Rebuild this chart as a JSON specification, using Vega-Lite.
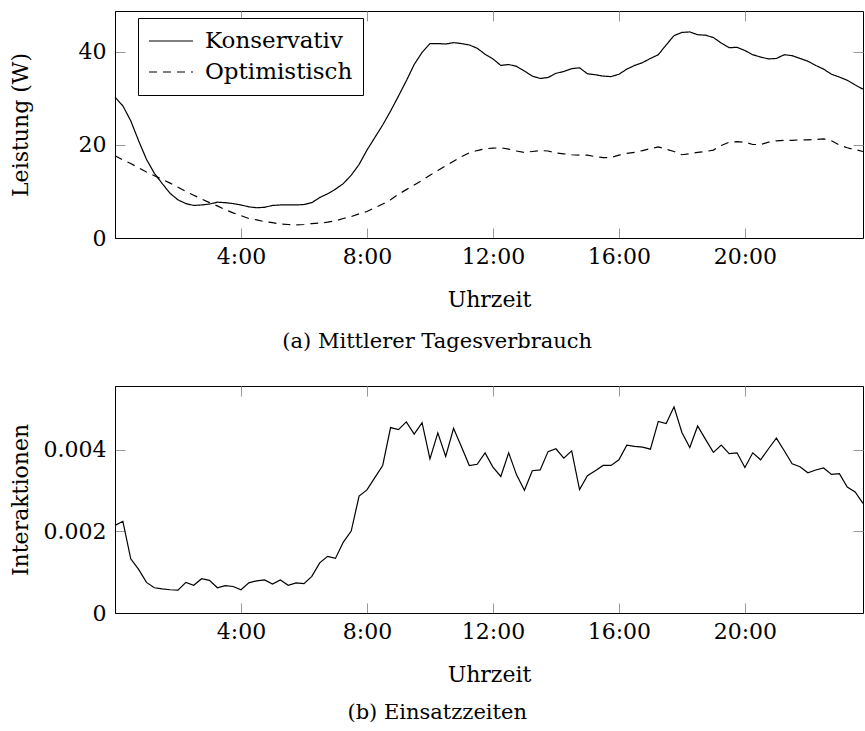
{
  "$schema": "https://vega.github.io/schema/vega-lite/v6.json",
  "padding": {"left": 8, "top": 10, "right": 0, "bottom": 0},
  "background": "white",
  "spacing": 148,
  "bounds": "flush",
  "config": {
    "font": "DejaVu Serif",
    "view": {"stroke": "black", "strokeWidth": 1},
    "axis": {
      "labelFont": "DejaVu Serif", "labelFontSize": 22, "labelColor": "black",
      "titleFont": "DejaVu Serif", "titleFontSize": 22, "titleFontWeight": "normal", "titleColor": "black",
      "ticks": false, "domain": true, "domainColor": "black", "domainWidth": 1,
      "grid": true, "gridColor": "#999999", "gridWidth": 1
    },
    "axisX": {"gridDash": [10, 207]},
    "axisY": {"gridDash": [10, 728]},
    "title": {"font": "DejaVu Serif", "fontSize": 21, "fontWeight": "normal", "color": "black"}
  },
  "datasets": {
    "leistung": [
      {"Uhrzeit": 0, "Konservativ": 30.3, "Optimistisch": 17.7},
      {"Uhrzeit": 0.25, "Konservativ": 28.4, "Optimistisch": 16.8},
      {"Uhrzeit": 0.5, "Konservativ": 25.2, "Optimistisch": 16.0},
      {"Uhrzeit": 0.75, "Konservativ": 20.9, "Optimistisch": 15.1},
      {"Uhrzeit": 1, "Konservativ": 16.9, "Optimistisch": 14.2},
      {"Uhrzeit": 1.25, "Konservativ": 13.9, "Optimistisch": 13.4},
      {"Uhrzeit": 1.5, "Konservativ": 11.7, "Optimistisch": 12.6},
      {"Uhrzeit": 1.75, "Konservativ": 9.6, "Optimistisch": 11.8},
      {"Uhrzeit": 2, "Konservativ": 8.2, "Optimistisch": 10.9},
      {"Uhrzeit": 2.25, "Konservativ": 7.4, "Optimistisch": 10.0},
      {"Uhrzeit": 2.5, "Konservativ": 7.0, "Optimistisch": 9.2},
      {"Uhrzeit": 2.75, "Konservativ": 7.1, "Optimistisch": 8.4},
      {"Uhrzeit": 3, "Konservativ": 7.3, "Optimistisch": 7.6},
      {"Uhrzeit": 3.25, "Konservativ": 7.7, "Optimistisch": 6.9},
      {"Uhrzeit": 3.5, "Konservativ": 7.6, "Optimistisch": 6.1},
      {"Uhrzeit": 3.75, "Konservativ": 7.4, "Optimistisch": 5.4},
      {"Uhrzeit": 4, "Konservativ": 7.1, "Optimistisch": 4.8},
      {"Uhrzeit": 4.25, "Konservativ": 6.7, "Optimistisch": 4.2},
      {"Uhrzeit": 4.5, "Konservativ": 6.5, "Optimistisch": 3.9},
      {"Uhrzeit": 4.75, "Konservativ": 6.6, "Optimistisch": 3.5},
      {"Uhrzeit": 5, "Konservativ": 7.0, "Optimistisch": 3.3},
      {"Uhrzeit": 5.25, "Konservativ": 7.1, "Optimistisch": 3.0},
      {"Uhrzeit": 5.5, "Konservativ": 7.1, "Optimistisch": 2.9},
      {"Uhrzeit": 5.75, "Konservativ": 7.1, "Optimistisch": 2.8},
      {"Uhrzeit": 6, "Konservativ": 7.2, "Optimistisch": 2.9},
      {"Uhrzeit": 6.25, "Konservativ": 7.6, "Optimistisch": 3.1},
      {"Uhrzeit": 6.5, "Konservativ": 8.7, "Optimistisch": 3.2},
      {"Uhrzeit": 6.75, "Konservativ": 9.5, "Optimistisch": 3.4},
      {"Uhrzeit": 7, "Konservativ": 10.5, "Optimistisch": 3.7},
      {"Uhrzeit": 7.25, "Konservativ": 11.7, "Optimistisch": 4.2},
      {"Uhrzeit": 7.5, "Konservativ": 13.5, "Optimistisch": 4.6},
      {"Uhrzeit": 7.75, "Konservativ": 15.8, "Optimistisch": 5.2},
      {"Uhrzeit": 8, "Konservativ": 18.9, "Optimistisch": 5.7},
      {"Uhrzeit": 8.25, "Konservativ": 21.6, "Optimistisch": 6.5},
      {"Uhrzeit": 8.5, "Konservativ": 24.3, "Optimistisch": 7.3},
      {"Uhrzeit": 8.75, "Konservativ": 27.3, "Optimistisch": 8.2},
      {"Uhrzeit": 9, "Konservativ": 30.5, "Optimistisch": 9.4},
      {"Uhrzeit": 9.25, "Konservativ": 33.8, "Optimistisch": 10.4},
      {"Uhrzeit": 9.5, "Konservativ": 37.3, "Optimistisch": 11.4},
      {"Uhrzeit": 9.75, "Konservativ": 39.9, "Optimistisch": 12.4},
      {"Uhrzeit": 10, "Konservativ": 41.8, "Optimistisch": 13.5},
      {"Uhrzeit": 10.25, "Konservativ": 41.8, "Optimistisch": 14.5},
      {"Uhrzeit": 10.5, "Konservativ": 41.7, "Optimistisch": 15.5},
      {"Uhrzeit": 10.75, "Konservativ": 42.0, "Optimistisch": 16.5},
      {"Uhrzeit": 11, "Konservativ": 41.8, "Optimistisch": 17.5},
      {"Uhrzeit": 11.25, "Konservativ": 41.5, "Optimistisch": 18.3},
      {"Uhrzeit": 11.5, "Konservativ": 40.8, "Optimistisch": 18.8},
      {"Uhrzeit": 11.75, "Konservativ": 39.5, "Optimistisch": 19.2},
      {"Uhrzeit": 12, "Konservativ": 38.5, "Optimistisch": 19.3},
      {"Uhrzeit": 12.25, "Konservativ": 37.1, "Optimistisch": 19.4},
      {"Uhrzeit": 12.5, "Konservativ": 37.3, "Optimistisch": 19.1},
      {"Uhrzeit": 12.75, "Konservativ": 36.9, "Optimistisch": 18.7},
      {"Uhrzeit": 13, "Konservativ": 35.9, "Optimistisch": 18.4},
      {"Uhrzeit": 13.25, "Konservativ": 34.8, "Optimistisch": 18.6},
      {"Uhrzeit": 13.5, "Konservativ": 34.3, "Optimistisch": 18.8},
      {"Uhrzeit": 13.75, "Konservativ": 34.5, "Optimistisch": 18.7},
      {"Uhrzeit": 14, "Konservativ": 35.4, "Optimistisch": 18.3},
      {"Uhrzeit": 14.25, "Konservativ": 35.8, "Optimistisch": 18.1},
      {"Uhrzeit": 14.5, "Konservativ": 36.4, "Optimistisch": 17.9},
      {"Uhrzeit": 14.75, "Konservativ": 36.6, "Optimistisch": 17.8},
      {"Uhrzeit": 15, "Konservativ": 35.3, "Optimistisch": 17.8},
      {"Uhrzeit": 15.25, "Konservativ": 35.1, "Optimistisch": 17.5},
      {"Uhrzeit": 15.5, "Konservativ": 34.8, "Optimistisch": 17.3},
      {"Uhrzeit": 15.75, "Konservativ": 34.7, "Optimistisch": 17.3},
      {"Uhrzeit": 16, "Konservativ": 35.2, "Optimistisch": 17.8},
      {"Uhrzeit": 16.25, "Konservativ": 36.3, "Optimistisch": 18.2},
      {"Uhrzeit": 16.5, "Konservativ": 37.1, "Optimistisch": 18.4},
      {"Uhrzeit": 16.75, "Konservativ": 37.7, "Optimistisch": 18.8},
      {"Uhrzeit": 17, "Konservativ": 38.6, "Optimistisch": 19.2},
      {"Uhrzeit": 17.25, "Konservativ": 39.4, "Optimistisch": 19.6},
      {"Uhrzeit": 17.5, "Konservativ": 41.5, "Optimistisch": 19.1},
      {"Uhrzeit": 17.75, "Konservativ": 43.5, "Optimistisch": 18.6},
      {"Uhrzeit": 18, "Konservativ": 44.2, "Optimistisch": 17.9},
      {"Uhrzeit": 18.25, "Konservativ": 44.3, "Optimistisch": 18.1},
      {"Uhrzeit": 18.5, "Konservativ": 43.7, "Optimistisch": 18.4},
      {"Uhrzeit": 18.75, "Konservativ": 43.6, "Optimistisch": 18.6},
      {"Uhrzeit": 19, "Konservativ": 43.1, "Optimistisch": 18.9},
      {"Uhrzeit": 19.25, "Konservativ": 41.9, "Optimistisch": 19.9},
      {"Uhrzeit": 19.5, "Konservativ": 40.9, "Optimistisch": 20.6},
      {"Uhrzeit": 19.75, "Konservativ": 41.0, "Optimistisch": 20.7},
      {"Uhrzeit": 20, "Konservativ": 40.3, "Optimistisch": 20.6},
      {"Uhrzeit": 20.25, "Konservativ": 39.4, "Optimistisch": 20.1},
      {"Uhrzeit": 20.5, "Konservativ": 38.9, "Optimistisch": 20.1},
      {"Uhrzeit": 20.75, "Konservativ": 38.5, "Optimistisch": 20.6},
      {"Uhrzeit": 21, "Konservativ": 38.6, "Optimistisch": 20.9},
      {"Uhrzeit": 21.25, "Konservativ": 39.4, "Optimistisch": 21.0},
      {"Uhrzeit": 21.5, "Konservativ": 39.2, "Optimistisch": 21.0},
      {"Uhrzeit": 21.75, "Konservativ": 38.6, "Optimistisch": 21.1},
      {"Uhrzeit": 22, "Konservativ": 38.0, "Optimistisch": 21.1},
      {"Uhrzeit": 22.25, "Konservativ": 37.1, "Optimistisch": 21.2},
      {"Uhrzeit": 22.5, "Konservativ": 36.3, "Optimistisch": 21.3},
      {"Uhrzeit": 22.75, "Konservativ": 35.2, "Optimistisch": 20.9},
      {"Uhrzeit": 23, "Konservativ": 34.6, "Optimistisch": 20.0},
      {"Uhrzeit": 23.25, "Konservativ": 33.9, "Optimistisch": 19.4},
      {"Uhrzeit": 23.5, "Konservativ": 32.9, "Optimistisch": 19.0},
      {"Uhrzeit": 23.75, "Konservativ": 32.0, "Optimistisch": 18.6}
    ],
    "einsatz": [
      {"Uhrzeit": 0, "Interaktionen": 0.00215},
      {"Uhrzeit": 0.25, "Interaktionen": 0.00225},
      {"Uhrzeit": 0.5, "Interaktionen": 0.00133},
      {"Uhrzeit": 0.75, "Interaktionen": 0.00107},
      {"Uhrzeit": 1, "Interaktionen": 0.00075},
      {"Uhrzeit": 1.25, "Interaktionen": 0.00062},
      {"Uhrzeit": 1.5, "Interaktionen": 0.00059},
      {"Uhrzeit": 1.75, "Interaktionen": 0.00057},
      {"Uhrzeit": 2, "Interaktionen": 0.00056},
      {"Uhrzeit": 2.25, "Interaktionen": 0.00075},
      {"Uhrzeit": 2.5, "Interaktionen": 0.00068},
      {"Uhrzeit": 2.75, "Interaktionen": 0.00084},
      {"Uhrzeit": 3, "Interaktionen": 0.00080},
      {"Uhrzeit": 3.25, "Interaktionen": 0.00062},
      {"Uhrzeit": 3.5, "Interaktionen": 0.00067},
      {"Uhrzeit": 3.75, "Interaktionen": 0.00065},
      {"Uhrzeit": 4, "Interaktionen": 0.00057},
      {"Uhrzeit": 4.25, "Interaktionen": 0.00074},
      {"Uhrzeit": 4.5, "Interaktionen": 0.00079},
      {"Uhrzeit": 4.75, "Interaktionen": 0.00081},
      {"Uhrzeit": 5, "Interaktionen": 0.00071},
      {"Uhrzeit": 5.25, "Interaktionen": 0.00081},
      {"Uhrzeit": 5.5, "Interaktionen": 0.00068},
      {"Uhrzeit": 5.75, "Interaktionen": 0.00074},
      {"Uhrzeit": 6, "Interaktionen": 0.00072},
      {"Uhrzeit": 6.25, "Interaktionen": 0.00090},
      {"Uhrzeit": 6.5, "Interaktionen": 0.00123},
      {"Uhrzeit": 6.75, "Interaktionen": 0.00139},
      {"Uhrzeit": 7, "Interaktionen": 0.00134},
      {"Uhrzeit": 7.25, "Interaktionen": 0.00174},
      {"Uhrzeit": 7.5, "Interaktionen": 0.00201},
      {"Uhrzeit": 7.75, "Interaktionen": 0.00287},
      {"Uhrzeit": 8, "Interaktionen": 0.00302},
      {"Uhrzeit": 8.25, "Interaktionen": 0.00332},
      {"Uhrzeit": 8.5, "Interaktionen": 0.00362},
      {"Uhrzeit": 8.75, "Interaktionen": 0.00455},
      {"Uhrzeit": 9, "Interaktionen": 0.00450},
      {"Uhrzeit": 9.25, "Interaktionen": 0.00469},
      {"Uhrzeit": 9.5, "Interaktionen": 0.00439},
      {"Uhrzeit": 9.75, "Interaktionen": 0.00467},
      {"Uhrzeit": 10, "Interaktionen": 0.00378},
      {"Uhrzeit": 10.25, "Interaktionen": 0.00442},
      {"Uhrzeit": 10.5, "Interaktionen": 0.00384},
      {"Uhrzeit": 10.75, "Interaktionen": 0.00453},
      {"Uhrzeit": 11, "Interaktionen": 0.00408},
      {"Uhrzeit": 11.25, "Interaktionen": 0.00362},
      {"Uhrzeit": 11.5, "Interaktionen": 0.00365},
      {"Uhrzeit": 11.75, "Interaktionen": 0.00393},
      {"Uhrzeit": 12, "Interaktionen": 0.00358},
      {"Uhrzeit": 12.25, "Interaktionen": 0.00335},
      {"Uhrzeit": 12.5, "Interaktionen": 0.00393},
      {"Uhrzeit": 12.75, "Interaktionen": 0.00339},
      {"Uhrzeit": 13, "Interaktionen": 0.00301},
      {"Uhrzeit": 13.25, "Interaktionen": 0.00349},
      {"Uhrzeit": 13.5, "Interaktionen": 0.00351},
      {"Uhrzeit": 13.75, "Interaktionen": 0.00396},
      {"Uhrzeit": 14, "Interaktionen": 0.00403},
      {"Uhrzeit": 14.25, "Interaktionen": 0.00380},
      {"Uhrzeit": 14.5, "Interaktionen": 0.00398},
      {"Uhrzeit": 14.75, "Interaktionen": 0.00303},
      {"Uhrzeit": 15, "Interaktionen": 0.00337},
      {"Uhrzeit": 15.25, "Interaktionen": 0.00349},
      {"Uhrzeit": 15.5, "Interaktionen": 0.00362},
      {"Uhrzeit": 15.75, "Interaktionen": 0.00362},
      {"Uhrzeit": 16, "Interaktionen": 0.00376},
      {"Uhrzeit": 16.25, "Interaktionen": 0.00412},
      {"Uhrzeit": 16.5, "Interaktionen": 0.00409},
      {"Uhrzeit": 16.75, "Interaktionen": 0.00407},
      {"Uhrzeit": 17, "Interaktionen": 0.00402},
      {"Uhrzeit": 17.25, "Interaktionen": 0.00470},
      {"Uhrzeit": 17.5, "Interaktionen": 0.00465},
      {"Uhrzeit": 17.75, "Interaktionen": 0.00506},
      {"Uhrzeit": 18, "Interaktionen": 0.00443},
      {"Uhrzeit": 18.25, "Interaktionen": 0.00406},
      {"Uhrzeit": 18.5, "Interaktionen": 0.00459},
      {"Uhrzeit": 18.75, "Interaktionen": 0.00426},
      {"Uhrzeit": 19, "Interaktionen": 0.00394},
      {"Uhrzeit": 19.25, "Interaktionen": 0.00412},
      {"Uhrzeit": 19.5, "Interaktionen": 0.00391},
      {"Uhrzeit": 19.75, "Interaktionen": 0.00393},
      {"Uhrzeit": 20, "Interaktionen": 0.00357},
      {"Uhrzeit": 20.25, "Interaktionen": 0.00393},
      {"Uhrzeit": 20.5, "Interaktionen": 0.00376},
      {"Uhrzeit": 20.75, "Interaktionen": 0.00403},
      {"Uhrzeit": 21, "Interaktionen": 0.00429},
      {"Uhrzeit": 21.25, "Interaktionen": 0.00398},
      {"Uhrzeit": 21.5, "Interaktionen": 0.00366},
      {"Uhrzeit": 21.75, "Interaktionen": 0.00359},
      {"Uhrzeit": 22, "Interaktionen": 0.00344},
      {"Uhrzeit": 22.25, "Interaktionen": 0.00351},
      {"Uhrzeit": 22.5, "Interaktionen": 0.00356},
      {"Uhrzeit": 22.75, "Interaktionen": 0.00340},
      {"Uhrzeit": 23, "Interaktionen": 0.00342},
      {"Uhrzeit": 23.25, "Interaktionen": 0.00309},
      {"Uhrzeit": 23.5, "Interaktionen": 0.00297},
      {"Uhrzeit": 23.75, "Interaktionen": 0.00269}
    ]
  },
  "vconcat": [
    {
      "width": 748,
      "height": 227,
      "title": {"text": "(a) Mittlerer Tagesverbrauch", "orient": "bottom", "frame": "bounds", "anchor": "middle", "offset": 21},
      "data": {"name": "leistung"},
      "transform": [{"fold": ["Konservativ", "Optimistisch"], "as": ["Reihe", "Leistung"]}],
      "mark": {"type": "line", "color": "black", "strokeWidth": 1.2},
      "encoding": {
        "x": {
          "field": "Uhrzeit", "type": "quantitative",
          "scale": {"domain": [0, 23.75], "nice": false, "zero": false},
          "axis": {"title": "Uhrzeit", "values": [4, 8, 12, 16, 20], "labelExpr": "datum.value + ':00'", "labelPadding": 8, "titleY": 68, "titleBaseline": "alphabetic"}
        },
        "y": {
          "field": "Leistung", "type": "quantitative",
          "scale": {"domain": [0, 48.8], "nice": false},
          "axis": {"title": "Leistung (W)", "values": [0, 20, 40], "labelPadding": 9, "titleX": -95, "titleY": 113.5, "titleBaseline": "middle", "titleAngle": 270}
        },
        "strokeDash": {
          "field": "Reihe", "type": "nominal",
          "scale": {"domain": ["Konservativ", "Optimistisch"], "range": [[1, 0], [8, 6]]},
          "legend": {
            "title": null, "orient": "none", "legendX": 23, "legendY": 7,
            "strokeColor": "black", "fillColor": "white", "padding": 10,
            "symbolType": "stroke", "symbolSize": 1936, "symbolStrokeWidth": 1.2, "symbolStrokeColor": "black",
            "clipHeight": 26, "rowPadding": 5,
            "labelFont": "DejaVu Serif", "labelFontSize": 23, "labelColor": "black", "labelOffset": 11
          }
        }
      }
    },
    {
      "width": 748,
      "height": 227,
      "title": {"text": "(b) Einsatzzeiten", "orient": "bottom", "frame": "bounds", "anchor": "middle", "offset": 17},
      "data": {"name": "einsatz"},
      "mark": {"type": "line", "color": "black", "strokeWidth": 1.2},
      "encoding": {
        "x": {
          "field": "Uhrzeit", "type": "quantitative",
          "scale": {"domain": [0, 23.75], "nice": false, "zero": false},
          "axis": {"title": "Uhrzeit", "values": [4, 8, 12, 16, 20], "labelExpr": "datum.value + ':00'", "labelPadding": 8, "titleY": 68, "titleBaseline": "alphabetic"}
        },
        "y": {
          "field": "Interaktionen", "type": "quantitative",
          "scale": {"domain": [0, 0.00557], "nice": false},
          "axis": {"title": "Interaktionen", "values": [0, 0.002, 0.004], "format": ".3~f", "labelPadding": 9, "titleX": -95, "titleY": 113.5, "titleBaseline": "middle", "titleAngle": 270}
        }
      }
    }
  ]
}
